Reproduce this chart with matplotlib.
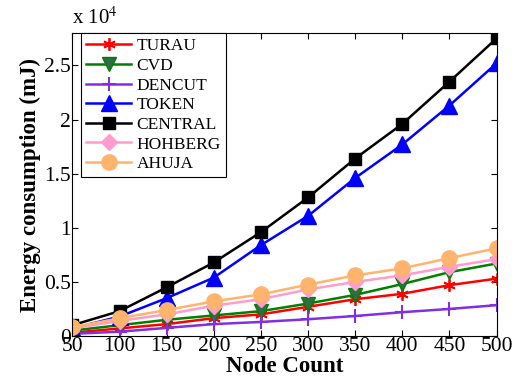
import matplotlib
matplotlib.use('Agg')
import matplotlib.pyplot as plt
import numpy as np

plt.rcParams['font.family'] = ['Liberation Serif', 'DejaVu Serif']
plt.rcParams['mathtext.fontset'] = 'stix'

node_count = [50, 100, 150, 200, 250, 300, 350, 400, 450, 500]

# energy in units of 1e4 mJ
turau   = [0.03, 0.07, 0.11, 0.165, 0.20, 0.27, 0.34, 0.39, 0.47, 0.53]
cvd     = [0.05, 0.10, 0.15, 0.19, 0.23, 0.30, 0.38, 0.48, 0.59, 0.67]
dencut  = [0.02, 0.04, 0.075, 0.11, 0.13, 0.155, 0.185, 0.22, 0.25, 0.285]
token   = [0.07, 0.18, 0.35, 0.54, 0.84, 1.11, 1.46, 1.77, 2.13, 2.52]
central = [0.10, 0.23, 0.45, 0.68, 0.96, 1.28, 1.64, 1.96, 2.35, 2.75]
hohberg = [0.07, 0.14, 0.20, 0.28, 0.34, 0.43, 0.50, 0.56, 0.64, 0.71]
ahuja   = [0.08, 0.165, 0.24, 0.32, 0.385, 0.475, 0.56, 0.625, 0.72, 0.81]

series = [
    ('TURAU', turau, dict(color='#ff0000', marker=(6, 2, 0), ms=9, mew=1.3)),
    ('CVD', cvd, dict(color='#008000', marker='v', ms=10, mfc='#2e6e46')),
    ('DENCUT', dencut, dict(color='#8030e0', marker='+', ms=10, mew=1.5)),
    ('TOKEN', token, dict(color='#0000ff', marker='^', ms=11)),
    ('CENTRAL', central, dict(color='#000000', marker='s', ms=8)),
    ('HOHBERG', hohberg, dict(color='#ff9ccc', marker='D', ms=8)),
    ('AHUJA', ahuja, dict(color='#ffb46e', marker='o', ms=11)),
]

fig = plt.figure(figsize=(5.14, 3.83), dpi=100)
ax = fig.add_axes([0.141, 0.1227, 0.825, 0.7911])

for name, vals, style in series:
    ax.plot(node_count, vals, lw=1.8, label=name, **style)

ax.set_xlim(50, 500)
ax.set_ylim(0, 2.8)
ax.set_xticks(node_count)
ax.set_yticks([0, 0.5, 1, 1.5, 2, 2.5])
ax.set_yticklabels(['0', '0.5', '1', '1.5', '2', '2.5'])
ax.tick_params(direction='in', top=True, right=True, labelsize=15.5, length=4, pad=1)
for sp in ax.spines.values():
    sp.set_linewidth(0.8)

ax.set_xlabel('Node Count', fontsize=16.5, fontweight='bold', labelpad=0)
ax.set_ylabel('Energy consumption (mJ)', fontsize=16.5, fontweight='bold', labelpad=2)
ax.text(0.0, 1.012, r'x 10$^4$', transform=ax.transAxes, fontsize=15, ha='left', va='bottom')

leg = ax.legend(loc='upper left', bbox_to_anchor=(0.02, 1.0), fontsize=12.5,
                frameon=True, fancybox=False, edgecolor='black', framealpha=1,
                handlelength=2.6, handletextpad=0.3, labelspacing=0.2,
                borderaxespad=0, borderpad=0.3)
leg.get_frame().set_linewidth(0.8)

plt.savefig('out.png', dpi=100)
